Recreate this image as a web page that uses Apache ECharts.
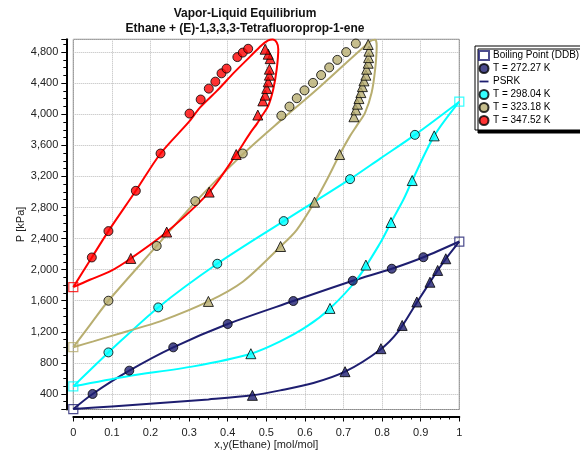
<!DOCTYPE html>
<html><head><meta charset="utf-8">
<script src="https://cdn.jsdelivr.net/npm/echarts@6/dist/echarts.min.js"></script>
<style>html,body{margin:0;padding:0;background:#fff}#c{width:580px;height:458px}</style>
</head><body><div id="c"></div>
<script>
// ---- data (x or y of ethane [mol/mol], P [kPa]) ----
const names = ['T = 272.27 K', 'T = 298.04 K', 'T = 323.18 K', 'T = 347.52 K'];
const colors = ['#1e1e70', '#00ffff', '#b8ae70', '#ff0000'];

// Boiling points (DDB)
const bp272 = [[0, 205], [1, 2362]];
const bp298 = [[0, 498], [1, 4162]];
const bp323 = [[0, 1002]];
const bp347 = [[0, 1775]];

// Experimental liquid (x) and vapor (y)
const liq272 = [[0.050,400],[0.145,700],[0.259,1000],[0.400,1300],[0.570,1596],[0.724,1857],[0.825,2012],[0.907,2160]];
const vap272 = [[0.464,382],[0.704,687],[0.797,983],[0.852,1282],[0.890,1584],[0.924,1838],[0.944,1990],[0.965,2140]];

const liq298 = [[0.091,935],[0.220,1514],[0.373,2076],[0.545,2625],[0.717,3165],[0.885,3735]];
const vap298 = [[0.460,918],[0.665,1501],[0.758,2059],[0.823,2607],[0.878,3147],[0.935,3722]];

const liq323 = [[0.091,1600],[0.216,2305],[0.316,2882],[0.439,3495],[0.539,3982],[0.560,4099],[0.579,4207],[0.599,4308],[0.621,4404],[0.642,4505],[0.663,4603],[0.684,4700],[0.707,4800],[0.732,4910]];
const vap323 = [[0.350,1591],[0.537,2298],[0.625,2869],[0.690,3482],[0.727,3968],[0.732,4057],[0.736,4130],[0.740,4202],[0.745,4279],[0.749,4356],[0.753,4430],[0.758,4503],[0.760,4580],[0.764,4657],[0.765,4729],[0.766,4812],[0.764,4898]];

const liq347 = [[0.048,2157],[0.091,2496],[0.162,3015],[0.226,3495],[0.301,4009],[0.330,4190],[0.351,4330],[0.368,4420],[0.384,4527],[0.397,4588],[0.425,4736],[0.439,4794],[0.453,4843]];
const vap347 = [[0.149,2144],[0.242,2484],[0.352,2998],[0.422,3482],[0.478,3990],[0.491,4172],[0.497,4246],[0.501,4331],[0.505,4417],[0.508,4503],[0.508,4580],[0.510,4716],[0.505,4773],[0.497,4837]];

// PSRK model curves
const psrk272bub = [[0,205],[0.050,400],[0.145,700],[0.259,1000],[0.400,1300],[0.570,1596],[0.724,1857],[0.825,2012],[0.907,2160],[1,2362]];
const psrk272dew = [[0,205],[0.100,240],[0.225,284],[0.350,330],[0.464,382],[0.536,446],[0.622,541],[0.704,687],[0.795,970],[0.842,1205],[0.890,1578],[0.924,1838],[0.944,1990],[0.965,2140],[1,2362]];

const psrk298bub = [[0,498],[0.045,715],[0.091,935],[0.220,1514],[0.373,2076],[0.545,2625],[0.717,3165],[0.795,3430],[0.885,3735],[1,4162]];
const psrk298dew = [[0,498],[0.138,626],[0.311,755],[0.460,918],[0.536,1077],[0.605,1269],[0.665,1501],[0.734,1870],[0.795,2342],[0.823,2607],[0.855,2899],[0.878,3147],[0.935,3722],[1,4162]];

const psrk323 = [[0,1002],[0.045,1300],[0.091,1600],[0.216,2305],[0.316,2870],[0.440,3490],[0.536,3915],[0.622,4279],[0.708,4665],[0.751,4858],[0.769,4940],[0.782,4958],[0.786,4880],[0.782,4580],[0.773,4279],[0.756,4022],[0.734,3851],[0.717,3722],[0.690,3482],[0.657,3157],[0.625,2869],[0.579,2513],[0.537,2298],[0.440,1848],[0.350,1591],[0.225,1334],[0.138,1205],[0.052,1077],[0,1002]];

const psrk347 = [[0,1775],[0.048,2157],[0.091,2496],[0.162,3015],[0.226,3495],[0.300,3905],[0.328,4086],[0.372,4301],[0.415,4529],[0.458,4742],[0.488,4889],[0.505,4950],[0.516,4962],[0.527,4925],[0.531,4837],[0.527,4580],[0.518,4323],[0.505,4108],[0.490,3990],[0.476,3880],[0.458,3757],[0.422,3482],[0.352,2998],[0.242,2484],[0.149,2144],[0.095,1977],[0.043,1870],[0,1775]];

const xTicks = [0, 0.1, 0.2, 0.3, 0.4, 0.5, 0.6, 0.7, 0.8, 0.9, 1];

// ---- chart ----
const FONT = '"Liberation Sans", Arial, sans-serif';
const chart = echarts.init(document.getElementById('c'), null, {renderer: 'canvas'});

function lineSeries(name, data, color) {
  return {type: 'line', name, data, smooth: 0.3, symbol: 'none', clip: false, z: 2,
          lineStyle: {color, width: 2}, itemStyle: {color}};
}
function pts(name, data, color, symbol) {
  return {type: 'scatter', name, data, symbol, symbolSize: symbol === 'circle' ? 9 : 10, clip: false, z: 5,
          itemStyle: {color, borderColor: '#000', borderWidth: 1}};
}

const bpData = [];
[[bp272, colors[0]], [bp298, colors[1]], [bp323, colors[2]], [bp347, colors[3]]].forEach(([arr, c]) => {
  arr.forEach(p => bpData.push({value: p, itemStyle: {borderColor: c}}));
});

const series = [
  lineSeries('PSRK', psrk272bub, colors[0]),
  lineSeries('PSRK 272 dew', psrk272dew, colors[0]),
  lineSeries('PSRK 298 bub', psrk298bub, colors[1]),
  lineSeries('PSRK 298 dew', psrk298dew, colors[1]),
  lineSeries('PSRK 323', psrk323, colors[2]),
  lineSeries('PSRK 347', psrk347, colors[3]),
  {type: 'scatter', name: 'Boiling Point (DDB)', data: bpData, symbol: 'rect', symbolSize: 9, clip: false, z: 6,
   itemStyle: {color: 'rgba(255,255,255,0)', borderColor: colors[0], borderWidth: 1.2}},
  pts(names[0], liq272, colors[0], 'circle'),
  pts(names[0] + ' vap', vap272, colors[0], 'triangle'),
  pts(names[1], liq298, colors[1], 'circle'),
  pts(names[1] + ' vap', vap298, colors[1], 'triangle'),
  pts(names[2], liq323, colors[2], 'circle'),
  pts(names[2] + ' vap', vap323, colors[2], 'triangle'),
  pts(names[3], liq347, colors[3], 'circle'),
  pts(names[3] + ' vap', vap347, colors[3], 'triangle')
];

chart.setOption({
  animation: false,
  backgroundColor: '#fff',
  textStyle: {fontFamily: FONT},
  title: {
    text: 'Vapor-Liquid Equilibrium\nEthane + (E)-1,3,3,3-Tetrafluoroprop-1-ene',
    left: 240, top: 1, textAlign: 'center',
    textStyle: {fontSize: 12, fontWeight: 'bold', color: '#111', lineHeight: 15, fontFamily: FONT}
  },
  legend: {
    orient: 'vertical', left: 475, top: 46,
    padding: [4, 3, 4, 3], itemGap: 2, itemWidth: 10, itemHeight: 9,
    backgroundColor: '#fff', borderColor: '#000', borderWidth: 1,
    shadowColor: '#000', shadowBlur: 0, shadowOffsetX: 3, shadowOffsetY: 3,
    textStyle: {fontSize: 10, lineHeight: 11, color: '#000', fontFamily: FONT, padding: [0, 0, 0, -1]},
    selectedMode: false,
    data: [
      {name: 'Boiling Point (DDB)', icon: 'rect'},
      {name: names[0], icon: 'circle'},
      {name: 'PSRK', icon: 'path://M0,0 M0,4 L10,4 L10,6 L0,6 Z M10,10'},
      {name: names[1], icon: 'circle'},
      {name: names[2], icon: 'circle'},
      {name: names[3], icon: 'circle'}
    ]
  },
  grid: {left: 73.3, right: 120.7, top: 39.3, bottom: 48.5, show: true,
         borderColor: '#777', borderWidth: 1, backgroundColor: '#fff'},
  xAxis: {
    type: 'value', min: xTicks[0], max: xTicks[xTicks.length - 1], interval: 0.1, offset: 7,
    axisLine: {show: true, onZero: false, lineStyle: {color: '#000', width: 2}},
    axisTick: {show: true, length: 5, lineStyle: {color: '#000'}},
    minorTick: {show: true, splitNumber: 4, length: 3, lineStyle: {color: '#000'}},
    splitLine: {show: true, lineStyle: {color: '#bbb', type: 'dotted', width: 1}},
    axisLabel: {fontSize: 11, color: '#222', margin: 11, fontFamily: FONT,
                formatter: v => String(+v.toFixed(1))},
    name: 'x,y(Ethane) [mol/mol]', nameLocation: 'middle', nameGap: 23, nameMoveOverlap: false,
    nameTextStyle: {fontSize: 11, color: '#222', fontFamily: FONT}
  },
  yAxis: {
    type: 'value', min: 200, max: 4965, minInterval: 400, maxInterval: 400, offset: 7,
    axisLine: {show: true, onZero: false, lineStyle: {color: '#000', width: 2}},
    axisTick: {show: true, length: 5, lineStyle: {color: '#000'}},
    minorTick: {show: true, splitNumber: 4, length: 3, lineStyle: {color: '#000'}},
    splitLine: {show: true, lineStyle: {color: '#bbb', type: 'dotted', width: 1}},
    axisLabel: {fontSize: 11, color: '#222', margin: 8, fontFamily: FONT, showMinLabel: false, showMaxLabel: false,
                formatter: v => Math.round(v).toLocaleString('en-US')},
    name: 'P [kPa]', nameLocation: 'middle', nameGap: 40, nameMoveOverlap: false,
    nameTextStyle: {fontSize: 11, color: '#222', fontFamily: FONT}
  },
  series
});
</script></body></html>
